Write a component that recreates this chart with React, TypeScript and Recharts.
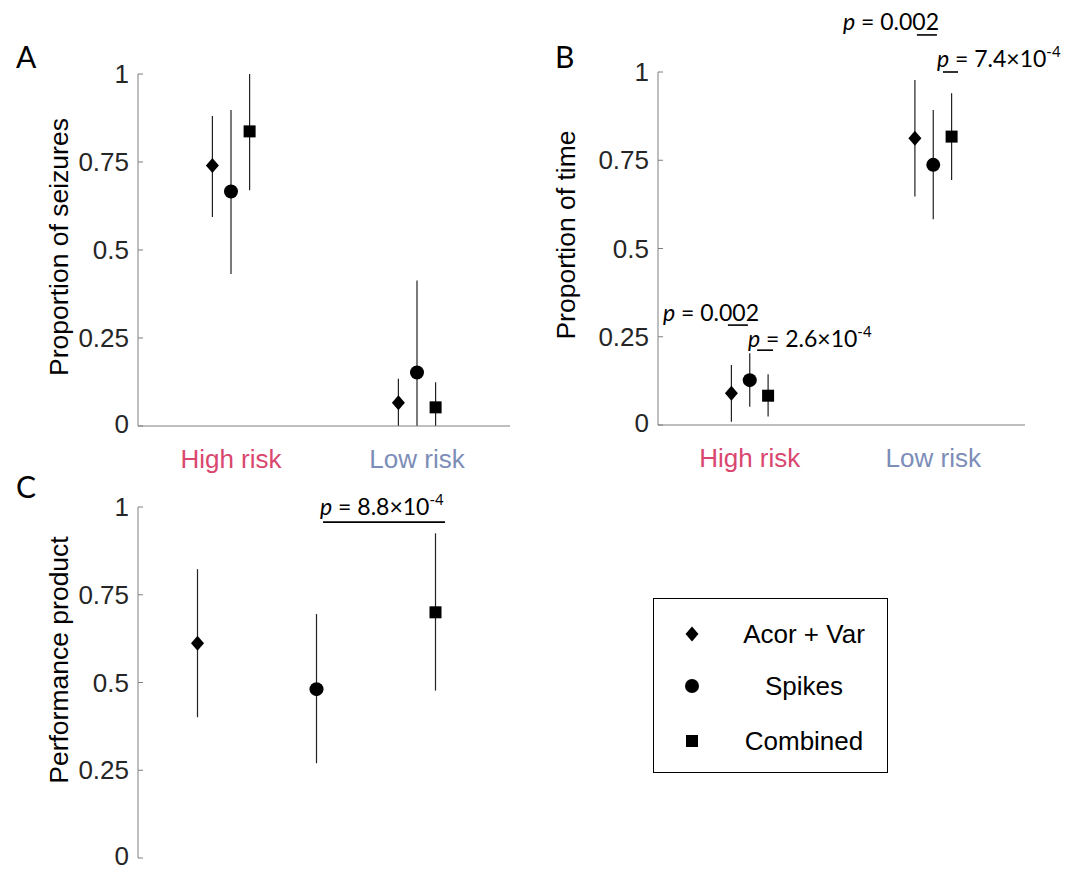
import React from 'react';
import { ScatterChart, Scatter, XAxis, YAxis, ErrorBar, ReferenceLine, ReferenceDot, Legend } from 'recharts';

// categories / series
const groups = ['High risk', 'Low risk'];
const groupColors = ['#d9476f', '#7c8db8'];
const riskX = [1, 2];
const methods = ['Acor + Var', 'Spikes', 'Combined'];
const methodShapes = ['diamond', 'circle', 'square'];
const methodOffsets = [-0.1, 0, 0.1];
const yTicks = [0, 0.25, 0.5, 0.75, 1];

// A: proportion of seizures (high, low)
const seizAcor = [0.74, 0.066];
const seizAcorLo = [0.594, 0];
const seizAcorHi = [0.881, 0.134];
const seizSpikes = [0.666, 0.152];
const seizSpikesLo = [0.432, 0];
const seizSpikesHi = [0.898, 0.413];
const seizComb = [0.837, 0.053];
const seizCombLo = [0.67, 0];
const seizCombHi = [1.0, 0.124];

// B: proportion of time (high, low)
const timeAcor = [0.09, 0.812];
const timeAcorLo = [0.009, 0.647];
const timeAcorHi = [0.17, 0.977];
const timeSpikes = [0.127, 0.737];
const timeSpikesLo = [0.052, 0.583];
const timeSpikesHi = [0.203, 0.892];
const timeComb = [0.083, 0.817];
const timeCombLo = [0.024, 0.694];
const timeCombHi = [0.144, 0.94];

// C: performance product (one per method)
const perfX = [1, 2, 3];
const perf = [0.612, 0.481, 0.7];
const perfLo = [0.401, 0.27, 0.477];
const perfHi = [0.823, 0.695, 0.925];

// p-value annotations (data coords)
const bNotes = [
  { x: 1.508, y: 1.119, rest: ' = 0.002', sup: '' },
  { x: 2.02, y: 1.014, rest: ' = 7.4×10', sup: '-4' },
  { x: 0.527, y: 0.295, rest: ' = 0.002', sup: '' },
  { x: 0.99, y: 0.221, rest: ' = 2.6×10', sup: '-4' },
];
const bBars = [
  { x1: 1.911, x2: 2.02, y: 1.105 },
  { x1: 2.053, x2: 2.135, y: 1.0 },
  { x1: 0.881, x2: 0.99, y: 0.283 },
  { x1: 1.04, x2: 1.127, y: 0.212 },
];
const cNotes = [{ x: 2.03, y: 0.977, rest: ' = 8.8×10', sup: '-4' }];
const cBars = [{ x1: 2.055, x2: 3.08, y: 0.957 }];

const axisColor = '#7f7f7f';
const tickColor = '#262626';
const sans = '"Liberation Sans", Arial, sans-serif';
const calibriLike = 'Lato, "Open Sans", sans-serif';

type Pt = { x: number; y: number; err: [number, number] };

const toPoints = (xs: number[], v: number[], lo: number[], hi: number[]): Pt[] =>
  v.map((val, i) => ({ x: xs[i], y: val, err: [val - lo[i], hi[i] - val] }));

const seriesA = [
  toPoints(riskX.map((x) => x + methodOffsets[0]), seizAcor, seizAcorLo, seizAcorHi),
  toPoints(riskX.map((x) => x + methodOffsets[1]), seizSpikes, seizSpikesLo, seizSpikesHi),
  toPoints(riskX.map((x) => x + methodOffsets[2]), seizComb, seizCombLo, seizCombHi),
];
const seriesB = [
  toPoints(riskX.map((x) => x + methodOffsets[0]), timeAcor, timeAcorLo, timeAcorHi),
  toPoints(riskX.map((x) => x + methodOffsets[1]), timeSpikes, timeSpikesLo, timeSpikesHi),
  toPoints(riskX.map((x) => x + methodOffsets[2]), timeComb, timeCombLo, timeCombHi),
];
const perfPoints = toPoints(perfX, perf, perfLo, perfHi);
const seriesC = methods.map((_, k) => [perfPoints[k]]);

const Marker = ({ cx, cy, kind }: any) => {
  if (kind === 'diamond') {
    return <polygon points={`${cx},${cy - 7.5} ${cx + 6.5},${cy} ${cx},${cy + 7.5} ${cx - 6.5},${cy}`} fill="#000" />;
  }
  if (kind === 'circle') return <circle cx={cx} cy={cy} r={7} fill="#000" />;
  return <rect x={cx - 6} y={cy - 6} width={12} height={12} fill="#000" />;
};

const YTick = ({ x, y, payload }: any) => (
  <g>
    <line x1={x} y1={y} x2={x + 5} y2={y} stroke={axisColor} />
    <text
      x={x - 9}
      y={payload.value === 0 ? y - 2 : y}
      textAnchor="end"
      dominantBaseline="central"
      fill={tickColor}
      style={{ fontSize: '26px', fontFamily: sans }}
    >
      {payload.value}
    </text>
  </g>
);

const RiskTick = ({ x, y, payload }: any) => {
  const i = riskX.indexOf(payload.value);
  return (
    <text x={x} y={y + 33} textAnchor="middle" dominantBaseline="central" fill={groupColors[i]} style={{ fontSize: '26px', fontFamily: sans }}>
      {groups[i]}
    </text>
  );
};

const YLabel = ({ text, cx, cy }: any) => (
  <text
    x={cx}
    y={cy}
    transform={`rotate(-90 ${cx} ${cy})`}
    textAnchor="middle"
    dominantBaseline="central"
    fill="#000"
    style={{ fontSize: '26.5px', fontFamily: sans }}
  >
    {text}
  </text>
);

const PLabel = ({ viewBox, rest, sup }: any) => (
  <text x={viewBox.x} y={viewBox.y} fill="#000" style={{ whiteSpace: 'pre', fontSize: '23px', fontFamily: calibriLike }}>
    <tspan fontStyle="italic">p</tspan>
    <tspan>{rest}</tspan>
    {sup ? <tspan dy={-10} style={{ fontSize: '15px' }}>{sup}</tspan> : null}
  </text>
);

const LegendBox = ({ payload }: any) => {
  const rowY = [35, 87, 142];
  const names: string[] = (payload || []).map((e: any) => e.value);
  return (
    <div style={{ width: 235, height: 175, border: '1.5px solid #000', boxSizing: 'border-box', background: '#fff', position: 'relative' }}>
      {names.map((m) => {
        const k = methods.indexOf(m);
        return (
          <div key={m} style={{ position: 'absolute', left: 0, top: rowY[k] - 16, height: 32, width: '100%' }}>
            <svg width={80} height={32} style={{ position: 'absolute', left: 0, top: 0 }}>
              <Marker cx={38} cy={16} kind={methodShapes[k]} />
            </svg>
            <span style={{ position: 'absolute', left: 78, width: 144, textAlign: 'center', lineHeight: '32px', fontSize: 26, fontFamily: sans, color: '#000' }}>
              {m}
            </span>
          </div>
        );
      })}
    </div>
  );
};

const renderSeries = (series: Pt[][]) =>
  series.map((data, k) => (
    <Scatter
      key={methods[k]}
      name={methods[k]}
      data={data}
      fill="#000"
      isAnimationActive={false}
      shape={(p: any) => <Marker cx={p.cx} cy={p.cy} kind={methodShapes[k]} />}
    >
      <ErrorBar dataKey="err" direction="y" width={0} stroke="#222" strokeWidth={1.2} isAnimationActive={false} />
    </Scatter>
  ));

const renderNotes = (notes: typeof bNotes, bars: typeof bBars) => [
  ...bars.map((b, i) => (
    <ReferenceLine
      key={`bar${i}`}
      segment={[{ x: b.x1, y: b.y }, { x: b.x2, y: b.y }]}
      stroke="#000"
      strokeWidth={1.6}
      ifOverflow="visible"
    />
  )),
  ...notes.map((n, i) => (
    <ReferenceDot
      key={`note${i}`}
      x={n.x}
      y={n.y}
      r={0}
      fill="none"
      stroke="none"
      ifOverflow="visible"
      label={<PLabel rest={n.rest} sup={n.sup} />}
    />
  )),
];

const RiskPanel = ({ series, width, margin, yLabel, labelPos, notes, bars }: any) => (
  <ScatterChart width={width} height={480} margin={margin}>
    <XAxis
      type="number"
      dataKey="x"
      domain={[0.5, 2.5]}
      ticks={riskX}
      axisLine={{ stroke: axisColor }}
      tickLine={false}
      tickSize={0}
      tickMargin={0}
      height={40}
      tick={<RiskTick />}
    />
    <YAxis
      type="number"
      dataKey="y"
      domain={[0, 1]}
      ticks={yTicks}
      width={60}
      axisLine={{ stroke: axisColor }}
      tickLine={false}
      tickSize={0}
      tickMargin={0}
      tick={<YTick />}
      label={<YLabel text={yLabel} cx={labelPos[0]} cy={labelPos[1]} />}
    />
    {renderSeries(series)}
    {notes ? renderNotes(notes, bars) : null}
  </ScatterChart>
);

export default function App() {
  return (
    <div style={{ position: 'absolute', left: 0, top: 0, width: 1070, height: 870, background: '#fff' }}>
      <div style={{ position: 'absolute', left: 0, top: 0 }}>
        <RiskPanel
          series={seriesA}
          width={530}
          margin={{ top: 74, right: 20, bottom: 14, left: 78 }}
          yLabel="Proportion of seizures"
          labelPos={[59, 247]}
        />
      </div>
      <div style={{ position: 'absolute', left: 530, top: 0 }}>
        <RiskPanel
          series={seriesB}
          width={540}
          margin={{ top: 72, right: 45, bottom: 15, left: 68 }}
          yLabel="Proportion of time"
          labelPos={[36, 235]}
          notes={bNotes}
          bars={bBars}
        />
      </div>
      <div style={{ position: 'absolute', left: 0, top: 470 }}>
        <ScatterChart width={900} height={400} margin={{ top: 37, right: 405, bottom: 12, left: 78 }}>
          <XAxis type="number" dataKey="x" domain={[0.5, 3.5]} ticks={perfX} axisLine={{ stroke: axisColor }} tickLine={false} tick={false} height={0} />
          <YAxis
            type="number"
            dataKey="y"
            domain={[0, 1]}
            ticks={yTicks}
            width={60}
            axisLine={{ stroke: axisColor }}
            tickLine={false}
            tickSize={0}
            tickMargin={0}
            tick={<YTick />}
            label={<YLabel text="Performance product" cx={59} cy={190} />}
          />
          {renderSeries(seriesC)}
          {renderNotes(cNotes, cBars)}
          <Legend
            layout="horizontal"
            verticalAlign="middle"
            align="center"
            content={<LegendBox />}
            wrapperStyle={{ left: 653, top: 128, width: 235, height: 175 }}
          />
        </ScatterChart>
      </div>
      <svg width={1070} height={870} style={{ position: 'absolute', left: 0, top: 0, pointerEvents: 'none' }}>
        <text x={16} y={68} style={{ fontSize: '30px', fontFamily: calibriLike }} fill="#000">A</text>
        <text x={555} y={68} style={{ fontSize: '30px', fontFamily: calibriLike }} fill="#000">B</text>
        <text x={16} y={498} style={{ fontSize: '30px', fontFamily: calibriLike }} fill="#000">C</text>
      </svg>
    </div>
  );
}
